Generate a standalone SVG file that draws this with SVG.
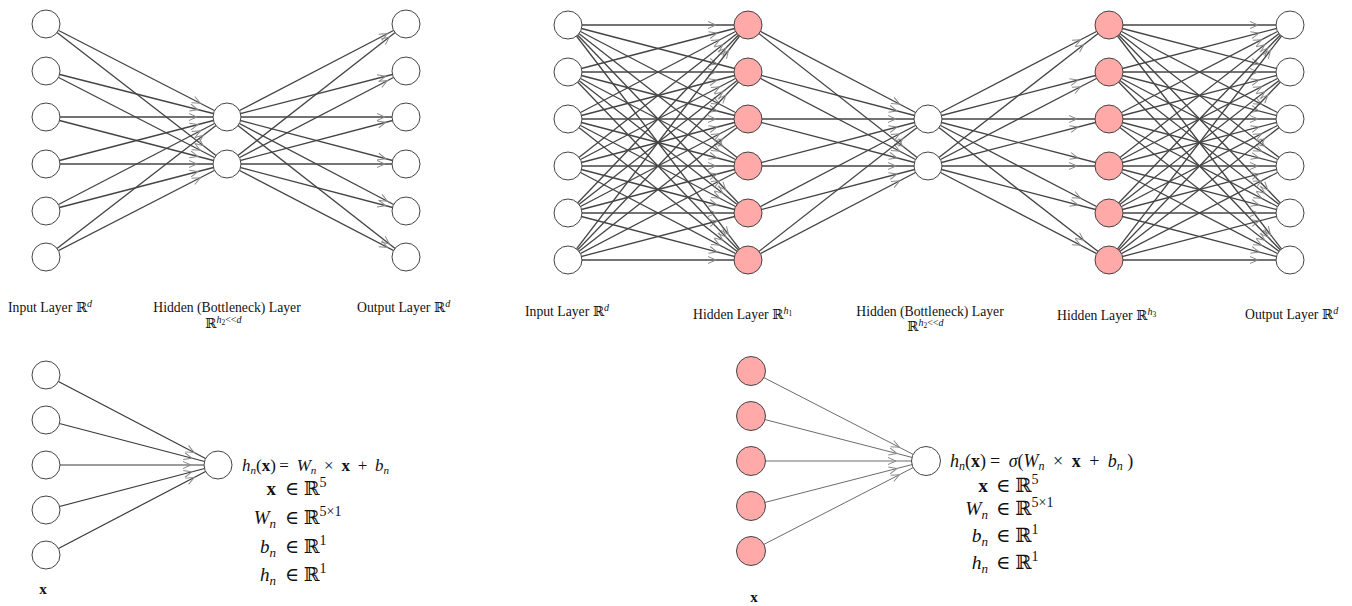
<svg xmlns="http://www.w3.org/2000/svg" width="1352" height="606" viewBox="0 0 1352 606">
<style>
.bg{fill:#fff}
line{stroke:#444;stroke-width:1.3}
.cl line{stroke:#3a3a3a;stroke-width:1.2}
.cr line{stroke:#5a5a5a;stroke-width:0.9}
.m30{marker-end:url(#a30)}
.m21{marker-end:url(#a21)}
.m32{marker-end:url(#a32)}
.m27{marker-end:url(#a27)}
circle{stroke:#444;stroke-width:1;fill:#fff}
circle.p{fill:#ffa9a9}
text{font-family:"Liberation Serif","DejaVu Serif",serif;fill:#111}
.lb{font-size:13.7px}
.f1{font-size:17px}
.f2{font-size:19px}
.f3{font-size:18px}
.f4{font-size:19.5px}
.fx{font-size:15px}
.i{font-style:italic}
.b{font-weight:bold}
</style>
<defs>
<marker id="a30" markerUnits="userSpaceOnUse" markerWidth="10" markerHeight="10" orient="auto" overflow="visible"><path d="M-38,-3.5 L-30,0 L-38,3.5" fill="none" stroke="#8a8a8a" stroke-width="1"/></marker>
<marker id="a21" markerUnits="userSpaceOnUse" markerWidth="10" markerHeight="10" orient="auto" overflow="visible"><path d="M-29,-3.5 L-21,0 L-29,3.5" fill="none" stroke="#8a8a8a" stroke-width="1"/></marker>
<marker id="a32" markerUnits="userSpaceOnUse" markerWidth="10" markerHeight="10" orient="auto" overflow="visible"><path d="M-40,-3.5 L-32,0 L-40,3.5" fill="none" stroke="#8a8a8a" stroke-width="1"/></marker>
<marker id="a27" markerUnits="userSpaceOnUse" markerWidth="10" markerHeight="10" orient="auto" overflow="visible"><path d="M-35,-3.5 L-27,0 L-35,3.5" fill="none" stroke="#8a8a8a" stroke-width="1"/></marker>
</defs>
<rect class="bg" x="0" y="0" width="1352" height="606"/>

<g id="connectors">
<g id="conn-ae1" class="m30">
<line x1="46" y1="24" x2="227" y2="117"/><line x1="46" y1="24" x2="227" y2="164"/>
<line x1="46" y1="71" x2="227" y2="117"/><line x1="46" y1="71" x2="227" y2="164"/>
<line x1="46" y1="117" x2="227" y2="117"/><line x1="46" y1="117" x2="227" y2="164"/>
<line x1="46" y1="164" x2="227" y2="117"/><line x1="46" y1="164" x2="227" y2="164"/>
<line x1="46" y1="211" x2="227" y2="117"/><line x1="46" y1="211" x2="227" y2="164"/>
<line x1="46" y1="257" x2="227" y2="117"/><line x1="46" y1="257" x2="227" y2="164"/>
</g>
<g id="conn-ae1-out" class="m21">
<line x1="227" y1="117" x2="406" y2="24"/><line x1="227" y1="164" x2="406" y2="24"/>
<line x1="227" y1="117" x2="406" y2="71"/><line x1="227" y1="164" x2="406" y2="71"/>
<line x1="227" y1="117" x2="406" y2="117"/><line x1="227" y1="164" x2="406" y2="117"/>
<line x1="227" y1="117" x2="406" y2="164"/><line x1="227" y1="164" x2="406" y2="164"/>
<line x1="227" y1="117" x2="406" y2="211"/><line x1="227" y1="164" x2="406" y2="211"/>
<line x1="227" y1="117" x2="406" y2="257"/><line x1="227" y1="164" x2="406" y2="257"/>
</g>
<g id="conn-ae2-a" class="m32">
<line x1="568" y1="25" x2="748" y2="25"/><line x1="568" y1="25" x2="748" y2="72"/><line x1="568" y1="25" x2="748" y2="119"/><line x1="568" y1="25" x2="748" y2="166"/><line x1="568" y1="25" x2="748" y2="213"/><line x1="568" y1="25" x2="748" y2="260"/>
<line x1="568" y1="72" x2="748" y2="25"/><line x1="568" y1="72" x2="748" y2="72"/><line x1="568" y1="72" x2="748" y2="119"/><line x1="568" y1="72" x2="748" y2="166"/><line x1="568" y1="72" x2="748" y2="213"/><line x1="568" y1="72" x2="748" y2="260"/>
<line x1="568" y1="119" x2="748" y2="25"/><line x1="568" y1="119" x2="748" y2="72"/><line x1="568" y1="119" x2="748" y2="119"/><line x1="568" y1="119" x2="748" y2="166"/><line x1="568" y1="119" x2="748" y2="213"/><line x1="568" y1="119" x2="748" y2="260"/>
<line x1="568" y1="166" x2="748" y2="25"/><line x1="568" y1="166" x2="748" y2="72"/><line x1="568" y1="166" x2="748" y2="119"/><line x1="568" y1="166" x2="748" y2="166"/><line x1="568" y1="166" x2="748" y2="213"/><line x1="568" y1="166" x2="748" y2="260"/>
<line x1="568" y1="213" x2="748" y2="25"/><line x1="568" y1="213" x2="748" y2="72"/><line x1="568" y1="213" x2="748" y2="119"/><line x1="568" y1="213" x2="748" y2="166"/><line x1="568" y1="213" x2="748" y2="213"/><line x1="568" y1="213" x2="748" y2="260"/>
<line x1="568" y1="260" x2="748" y2="25"/><line x1="568" y1="260" x2="748" y2="72"/><line x1="568" y1="260" x2="748" y2="119"/><line x1="568" y1="260" x2="748" y2="166"/><line x1="568" y1="260" x2="748" y2="213"/><line x1="568" y1="260" x2="748" y2="260"/>
</g>
<g id="conn-ae2-b" class="m32">
<line x1="748" y1="25" x2="928" y2="119"/><line x1="748" y1="25" x2="928" y2="166"/>
<line x1="748" y1="72" x2="928" y2="119"/><line x1="748" y1="72" x2="928" y2="166"/>
<line x1="748" y1="119" x2="928" y2="119"/><line x1="748" y1="119" x2="928" y2="166"/>
<line x1="748" y1="166" x2="928" y2="119"/><line x1="748" y1="166" x2="928" y2="166"/>
<line x1="748" y1="213" x2="928" y2="119"/><line x1="748" y1="213" x2="928" y2="166"/>
<line x1="748" y1="260" x2="928" y2="119"/><line x1="748" y1="260" x2="928" y2="166"/>
</g>
<g id="conn-ae2-c" class="m32">
<line x1="928" y1="119" x2="1109" y2="25"/><line x1="928" y1="166" x2="1109" y2="25"/>
<line x1="928" y1="119" x2="1109" y2="72"/><line x1="928" y1="166" x2="1109" y2="72"/>
<line x1="928" y1="119" x2="1109" y2="119"/><line x1="928" y1="166" x2="1109" y2="119"/>
<line x1="928" y1="119" x2="1109" y2="166"/><line x1="928" y1="166" x2="1109" y2="166"/>
<line x1="928" y1="119" x2="1109" y2="213"/><line x1="928" y1="166" x2="1109" y2="213"/>
<line x1="928" y1="119" x2="1109" y2="260"/><line x1="928" y1="166" x2="1109" y2="260"/>
</g>
<g id="conn-ae2-d" class="m32">
<line x1="1109" y1="25" x2="1290" y2="25"/><line x1="1109" y1="25" x2="1290" y2="72"/><line x1="1109" y1="25" x2="1290" y2="119"/><line x1="1109" y1="25" x2="1290" y2="166"/><line x1="1109" y1="25" x2="1290" y2="213"/><line x1="1109" y1="25" x2="1290" y2="260"/>
<line x1="1109" y1="72" x2="1290" y2="25"/><line x1="1109" y1="72" x2="1290" y2="72"/><line x1="1109" y1="72" x2="1290" y2="119"/><line x1="1109" y1="72" x2="1290" y2="166"/><line x1="1109" y1="72" x2="1290" y2="213"/><line x1="1109" y1="72" x2="1290" y2="260"/>
<line x1="1109" y1="119" x2="1290" y2="25"/><line x1="1109" y1="119" x2="1290" y2="72"/><line x1="1109" y1="119" x2="1290" y2="119"/><line x1="1109" y1="119" x2="1290" y2="166"/><line x1="1109" y1="119" x2="1290" y2="213"/><line x1="1109" y1="119" x2="1290" y2="260"/>
<line x1="1109" y1="166" x2="1290" y2="25"/><line x1="1109" y1="166" x2="1290" y2="72"/><line x1="1109" y1="166" x2="1290" y2="119"/><line x1="1109" y1="166" x2="1290" y2="166"/><line x1="1109" y1="166" x2="1290" y2="213"/><line x1="1109" y1="166" x2="1290" y2="260"/>
<line x1="1109" y1="213" x2="1290" y2="25"/><line x1="1109" y1="213" x2="1290" y2="72"/><line x1="1109" y1="213" x2="1290" y2="119"/><line x1="1109" y1="213" x2="1290" y2="166"/><line x1="1109" y1="213" x2="1290" y2="213"/><line x1="1109" y1="213" x2="1290" y2="260"/>
<line x1="1109" y1="260" x2="1290" y2="25"/><line x1="1109" y1="260" x2="1290" y2="72"/><line x1="1109" y1="260" x2="1290" y2="119"/><line x1="1109" y1="260" x2="1290" y2="166"/><line x1="1109" y1="260" x2="1290" y2="213"/><line x1="1109" y1="260" x2="1290" y2="260"/>
</g>
<g id="conn-lin" class="cl m27">
<line x1="46" y1="375" x2="218" y2="465"/><line x1="46" y1="420" x2="218" y2="465"/><line x1="46" y1="465" x2="218" y2="465"/><line x1="46" y1="510" x2="218" y2="465"/><line x1="46" y1="555" x2="218" y2="465"/>
</g>
<g id="conn-act" class="cr m30">
<line x1="751" y1="371" x2="926" y2="461"/><line x1="751" y1="416" x2="926" y2="461"/><line x1="751" y1="461" x2="926" y2="461"/><line x1="751" y1="506" x2="926" y2="461"/><line x1="751" y1="551" x2="926" y2="461"/>
</g>
</g>

<g id="ae1-input"><circle cx="46" cy="24" r="14"/><circle cx="46" cy="71" r="14"/><circle cx="46" cy="117" r="14"/><circle cx="46" cy="164" r="14"/><circle cx="46" cy="211" r="14"/><circle cx="46" cy="257" r="14"/></g>
<g id="ae1-hidden"><circle cx="227" cy="117" r="14"/><circle cx="227" cy="164" r="14"/></g>
<g id="ae1-output"><circle cx="406" cy="24" r="14"/><circle cx="406" cy="71" r="14"/><circle cx="406" cy="117" r="14"/><circle cx="406" cy="164" r="14"/><circle cx="406" cy="211" r="14"/><circle cx="406" cy="257" r="14"/></g>

<g id="ae2-input"><circle cx="568" cy="25" r="14"/><circle cx="568" cy="72" r="14"/><circle cx="568" cy="119" r="14"/><circle cx="568" cy="166" r="14"/><circle cx="568" cy="213" r="14"/><circle cx="568" cy="260" r="14"/></g>
<g id="ae2-h1"><circle class="p" cx="748" cy="25" r="14"/><circle class="p" cx="748" cy="72" r="14"/><circle class="p" cx="748" cy="119" r="14"/><circle class="p" cx="748" cy="166" r="14"/><circle class="p" cx="748" cy="213" r="14"/><circle class="p" cx="748" cy="260" r="14"/></g>
<g id="ae2-bottleneck"><circle cx="928" cy="119" r="14"/><circle cx="928" cy="166" r="14"/></g>
<g id="ae2-h3"><circle class="p" cx="1109" cy="25" r="14"/><circle class="p" cx="1109" cy="72" r="14"/><circle class="p" cx="1109" cy="119" r="14"/><circle class="p" cx="1109" cy="166" r="14"/><circle class="p" cx="1109" cy="213" r="14"/><circle class="p" cx="1109" cy="260" r="14"/></g>
<g id="ae2-output"><circle cx="1290" cy="25" r="14"/><circle cx="1290" cy="72" r="14"/><circle cx="1290" cy="119" r="14"/><circle cx="1290" cy="166" r="14"/><circle cx="1290" cy="213" r="14"/><circle cx="1290" cy="260" r="14"/></g>

<g id="lin-input"><circle cx="46" cy="375" r="14"/><circle cx="46" cy="420" r="14"/><circle cx="46" cy="465" r="14"/><circle cx="46" cy="510" r="14"/><circle cx="46" cy="555" r="14"/></g>
<g id="lin-neuron"><circle cx="218" cy="465" r="14"/></g>
<g id="act-input"><circle class="p" cx="751" cy="371" r="14.5"/><circle class="p" cx="751" cy="416" r="14.5"/><circle class="p" cx="751" cy="461" r="14.5"/><circle class="p" cx="751" cy="506" r="14.5"/><circle class="p" cx="751" cy="551" r="14.5"/></g>
<g id="act-neuron"><circle cx="926" cy="461" r="14.5"/></g>

<g id="labels">
<text class="lb" x="8" y="312">Input Layer ℝ<tspan class="i" font-size="10" dy="-5">d</tspan></text>
<text class="lb" x="227" y="312" text-anchor="middle">Hidden (Bottleneck) Layer</text>
<text class="lb" x="205" y="328">ℝ<tspan class="i" font-size="10" dy="-5">h</tspan><tspan font-size="7.5" dy="2">2</tspan><tspan font-size="10" dy="-2">&lt;&lt;</tspan><tspan class="i" font-size="10">d</tspan></text>
<text class="lb" x="357" y="312">Output Layer ℝ<tspan class="i" font-size="10" dy="-5">d</tspan></text>

<text class="lb" x="525" y="316">Input Layer ℝ<tspan class="i" font-size="10" dy="-5">d</tspan></text>
<text class="lb" x="693" y="319">Hidden Layer ℝ<tspan class="i" font-size="10" dy="-5">h</tspan><tspan font-size="7.5" dy="2">1</tspan></text>
<text class="lb" x="930" y="316" text-anchor="middle">Hidden (Bottleneck) Layer</text>
<text class="lb" x="907" y="331">ℝ<tspan class="i" font-size="10" dy="-5">h</tspan><tspan font-size="7.5" dy="2">2</tspan><tspan font-size="10" dy="-2">&lt;&lt;</tspan><tspan class="i" font-size="10">d</tspan></text>
<text class="lb" x="1057" y="320">Hidden Layer ℝ<tspan class="i" font-size="10" dy="-5">h</tspan><tspan font-size="7.5" dy="2">3</tspan></text>
<text class="lb" x="1245" y="319">Output Layer ℝ<tspan class="i" font-size="10" dy="-5">d</tspan></text>
</g>

<g id="formula-linear">
<text class="f1" x="242" y="471"><tspan class="i">h</tspan><tspan class="i" font-size="11" dy="3">n</tspan><tspan dy="-3">(</tspan><tspan class="b">x</tspan>)<tspan dx="3.5">=</tspan><tspan dx="3.5"> </tspan><tspan class="i">W</tspan><tspan class="i" font-size="11" dy="3">n</tspan><tspan dy="-3" dx="3.5"> ×</tspan><tspan dx="3.5"> </tspan><tspan class="b">x</tspan><tspan dx="3.5"> +</tspan><tspan dx="3.5"> </tspan><tspan class="i">b</tspan><tspan class="i" font-size="11" dy="3">n</tspan></text>
<text class="f2" x="276" y="495" text-anchor="end"><tspan class="b">x</tspan></text>
<text class="f2" x="285" y="495">∈ ℝ<tspan font-size="14" dy="-8">5</tspan></text>
<text class="f2" x="276" y="524" text-anchor="end"><tspan class="i">W</tspan><tspan class="i" font-size="13" dy="4">n</tspan></text>
<text class="f2" x="285" y="524">∈ ℝ<tspan font-size="14" dy="-8">5×1</tspan></text>
<text class="f2" x="276" y="553" text-anchor="end"><tspan class="i">b</tspan><tspan class="i" font-size="13" dy="4">n</tspan></text>
<text class="f2" x="285" y="553">∈ ℝ<tspan font-size="14" dy="-8">1</tspan></text>
<text class="f2" x="276" y="581" text-anchor="end"><tspan class="i">h</tspan><tspan class="i" font-size="13" dy="4">n</tspan></text>
<text class="f2" x="285" y="581">∈ ℝ<tspan font-size="14" dy="-8">1</tspan></text>
<text class="fx b" x="43" y="594" text-anchor="middle">x</text>
</g>

<g id="formula-activation">
<text class="f3" x="950" y="467"><tspan class="i">h</tspan><tspan class="i" font-size="12" dy="3">n</tspan><tspan dy="-3">(</tspan><tspan class="b">x</tspan>)<tspan dx="4">=</tspan><tspan dx="4"> </tspan><tspan class="i">σ</tspan>(<tspan class="i">W</tspan><tspan class="i" font-size="12" dy="3">n</tspan><tspan dy="-3" dx="4"> ×</tspan><tspan dx="4"> </tspan><tspan class="b">x</tspan><tspan dx="4"> +</tspan><tspan dx="4"> </tspan><tspan class="i">b</tspan><tspan class="i" font-size="12" dy="3">n</tspan><tspan dy="-3"> )</tspan></text>
<text class="f4" x="988" y="492" text-anchor="end"><tspan class="b">x</tspan></text>
<text class="f4" x="996" y="492">∈ ℝ<tspan font-size="14" dy="-8">5</tspan></text>
<text class="f4" x="988" y="515" text-anchor="end"><tspan class="i">W</tspan><tspan class="i" font-size="13" dy="4">n</tspan></text>
<text class="f4" x="996" y="515">∈ ℝ<tspan font-size="14" dy="-8">5×1</tspan></text>
<text class="f4" x="988" y="542" text-anchor="end"><tspan class="i">b</tspan><tspan class="i" font-size="13" dy="4">n</tspan></text>
<text class="f4" x="996" y="542">∈ ℝ<tspan font-size="14" dy="-8">1</tspan></text>
<text class="f4" x="988" y="569" text-anchor="end"><tspan class="i">h</tspan><tspan class="i" font-size="13" dy="4">n</tspan></text>
<text class="f4" x="996" y="569">∈ ℝ<tspan font-size="14" dy="-8">1</tspan></text>
<text class="fx b" x="754" y="602" text-anchor="middle">x</text>
</g>
</svg>
